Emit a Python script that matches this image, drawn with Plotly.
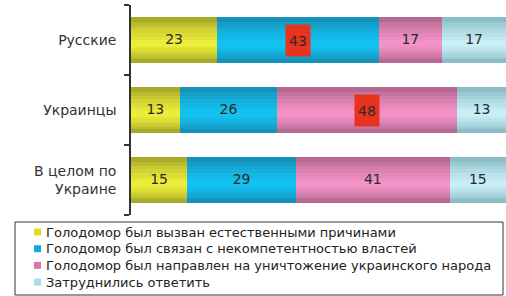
import plotly.graph_objects as go

# ---- data ----
categories = ["Русские", "Украинцы", "В целом по<br>Украине"]
series_names = [
    "Голодомор был вызван естественными причинами",
    "Голодомор был связан с некомпетентностью властей",
    "Голодомор был направлен на уничтожение украинского народа",
    "Затруднились ответить",
]
natural = [23, 13, 15]
incompetence = [43, 26, 29]
genocide = [17, 48, 41]
hard_to_say = [17, 13, 15]
highlight = [(0, 1), (1, 2)]  # (category index, series index) shown on red

series_values = [natural, incompetence, genocide, hard_to_say]
edge_colors = ["#7a7a1e", "#176e90", "#8a4a6c", "#5f9aa4"]
mid_colors = ["#ecec3a", "#14c2f2", "#f292c6", "#c8eef6"]
legend_colors = ["#e0e020", "#10a8e0", "#e070b0", "#a8dce8"]

# ---- helpers ----
def hex2rgb(h):
    h = h.lstrip("#")
    return tuple(int(h[i:i + 2], 16) for i in (0, 2, 4))

def mix(c1, c2, t):
    a, b = hex2rgb(c1), hex2rgb(c2)
    return "rgb(%d,%d,%d)" % tuple(round(a[k] + (b[k] - a[k]) * t) for k in range(3))

order = categories[::-1]  # bottom-to-top so that "Русские" is on top

fig = go.Figure()
bases = [0] * len(categories)
N_LAYERS = 7
FULL_W = 0.66
CENTER_SHIFT = -0.05
for s, vals in enumerate(series_values):
    for i in range(N_LAYERS):
        frac = 1 - i / N_LAYERS
        w = FULL_W if i == 0 else (FULL_W - 0.04) * frac
        c = CENTER_SHIFT * (i / (N_LAYERS - 1))
        t = ((i + 1) / N_LAYERS) ** 0.45
        fig.add_trace(go.Bar(
            y=categories, x=vals, base=list(bases), orientation="h",
            width=w, offset=c - w / 2,
            marker=dict(color=mix(edge_colors[s], mid_colors[s], t), line=dict(width=0)),
            showlegend=False, hoverinfo="skip",
        ))
    bases = [b + v for b, v in zip(bases, vals)]

# value labels
lab_x, lab_y, lab_t = [], [], []
cum = [0] * len(categories)
for s, vals in enumerate(series_values):
    for k, v in enumerate(vals):
        cx = cum[k] + v / 2
        if (k, s) in highlight:
            fig.add_annotation(x=cx, y=categories[k], xref="x", yref="y",
                               text=str(v), showarrow=False, bgcolor="#e8341e",
                               width=20, height=27, borderpad=2,
                               font=dict(family="DejaVu Sans", size=14, color="#2a2a2a"))
        else:
            lab_x.append(cx)
            lab_y.append(categories[k])
            lab_t.append(str(v))
    cum = [c + v for c, v in zip(cum, vals)]
fig.add_trace(go.Scatter(x=lab_x, y=lab_y, text=lab_t, mode="text",
                         textfont=dict(family="DejaVu Sans", size=14, color="#2a2a2a"),
                         showlegend=False, hoverinfo="skip"))

# ---- layout ----
W, H = 506, 296
L, R, T, B = 131, 0, 5, 81
pw, ph = W - L - R, H - T - B

def px_x(p):
    return (p - L) / pw

def px_y(p):
    return (H - B - p) / ph

# manual legend
fig.add_shape(type="rect", xref="paper", yref="paper",
              x0=px_x(15), x1=px_x(503), y0=px_y(295), y1=px_y(222),
              line=dict(color="#333333", width=1), fillcolor="white")
for i, name in enumerate(series_names):
    yc = 232 + 16.7 * i
    fig.add_shape(type="rect", xref="paper", yref="paper",
                  x0=px_x(34), x1=px_x(41), y0=px_y(yc + 3.5), y1=px_y(yc - 3.5),
                  line=dict(width=0), fillcolor=legend_colors[i])
    fig.add_annotation(xref="paper", yref="paper", x=px_x(44), y=px_y(yc),
                       xanchor="left", yanchor="middle", text=name, showarrow=False,
                       font=dict(family="DejaVu Sans", size=13, color="#222222"))

fig.update_layout(
    width=W, height=H, margin=dict(l=L, r=R, t=T, b=B),
    barmode="overlay", bargap=0,
    paper_bgcolor="white", plot_bgcolor="white",
    showlegend=False,
    xaxis=dict(range=[0, 100], visible=False, fixedrange=True),
    yaxis=dict(categoryorder="array", categoryarray=order, range=[-0.5, 2.5],
               showline=True, linecolor="#333333", linewidth=1.5,
               ticks="outside", tickson="boundaries", ticklen=5, tickcolor="#333333",
               tickwidth=1.5, ticklabelstandoff=10, showgrid=False, zeroline=False,
               tickfont=dict(family="DejaVu Sans", size=14, color="#333333"),
               fixedrange=True),
)

fig.write_html("out.html", config={"displayModeBar": False},
               post_script="document.body.style.margin='0';")
